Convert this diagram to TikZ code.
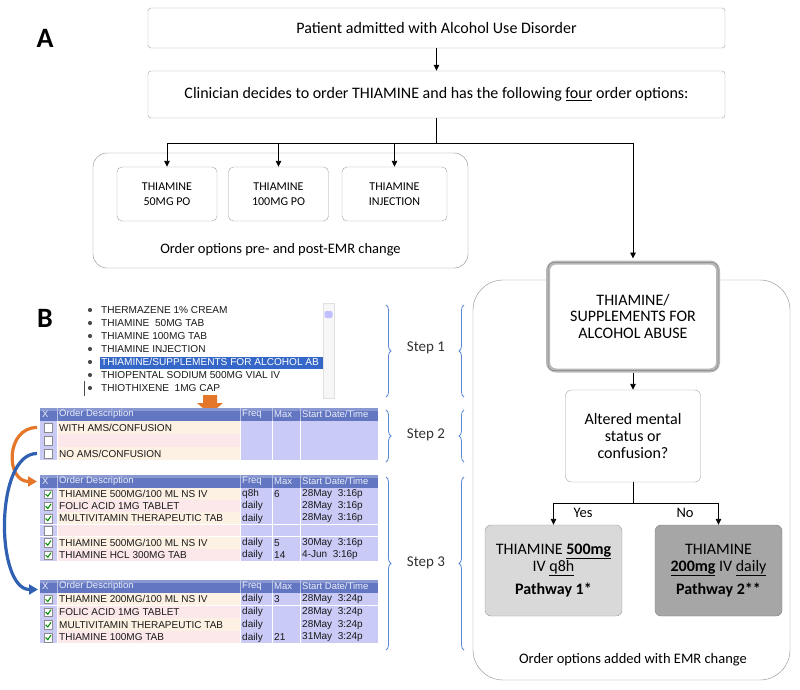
\documentclass[tikz,border=0pt]{standalone}
\usepackage{fontspec}
\setmainfont{Carlito}
\newfontfamily\emrfont{Liberation Sans}
\usetikzlibrary{arrows.meta,decorations.pathreplacing,positioning}

\definecolor{boxline}{HTML}{A3A3A3}
\definecolor{stepblue}{HTML}{5B87D6}
\definecolor{hdrblue}{HTML}{6276C2}
\definecolor{peach}{HTML}{FDF1E3}
\definecolor{pinkrow}{HTML}{FCE7EA}
\definecolor{lav}{HTML}{C9CAF6}
\definecolor{selblue}{HTML}{3467C8}
\definecolor{orangearr}{HTML}{E5772A}
\definecolor{bluearr}{HTML}{2F60B2}
\definecolor{pathlight}{HTML}{D9D9D9}
\definecolor{pathdark}{HTML}{A6A6A6}

\tikzset{
  flowbox/.style={draw=boxline, rounded corners=3pt, fill=white, align=center,
    inner sep=0pt, font=\fontsize{16}{19}\selectfont},
  optbox/.style={draw=boxline, rounded corners=5pt, fill=white, align=center,
    inner sep=0pt, minimum height=54pt, font=\fontsize{12}{15}\selectfont},
  groupbox/.style={draw=boxline!85!black, rounded corners=#1, inner sep=0pt},
  supplbox/.style={draw=black!28, line width=4pt, rounded corners=8pt, fill=white,
    align=center, inner sep=0pt, font=\fontsize{16}{16.5}\selectfont},
  pathbox/.style={draw=black!40, rounded corners=6pt, align=center, inner sep=0pt,
    minimum height=91pt, font=\fontsize{16}{17}\selectfont},
  flowline/.style={black, line width=0.9pt},
  arr/.style={-{Triangle[length=6pt,width=5.5pt]}},
  stepbrace/.style={decorate, decoration={brace, amplitude=5pt, aspect=0.5},
    draw=stepblue, line width=0.8pt},
  steplabel/.style={font=\fontsize{15}{18}\selectfont, text=black!80},
  panel/.style={font=\bfseries\fontsize{28}{30}\selectfont},
  caption/.style={font=\fontsize{14.5}{17}\selectfont},
  emrtext/.style={anchor=west, inner sep=0pt, text=black!90,
    font=\emrfont\fontsize{10}{11}\selectfont},
  emrhead/.style={anchor=west, inner sep=0pt, text=white!88!hdrblue,
    font=\emrfont\fontsize{9.5}{10}\selectfont}
}

% name, top, row height, rows
\newcommand\emrtable[4]{%
  \fill[hdrblue] (40,#2) rectangle (378,#2+13);
  \fill[white, opacity=.25] (40,#2) rectangle (378,#2+3);
  \foreach \cx in {57,240,272,300} \draw[white!55!hdrblue] (\cx,#2) -- (\cx,#2+13);
  \coordinate (#1head) at (40,#2+6.5);
  \node[emrhead] (#1hx) at (42,#2+6.5) {X};
  \node[emrhead] (#1hdesc) at (59,#2+6.5) {Order Description};
  \node[emrhead] (#1hfreq) at (242,#2+6.5) {Freq};
  \node[emrhead] (#1hmax) at (274,#2+6.5) {Max};
  \node[emrhead] (#1hstart) at (302,#2+6.5) {Start Date/Time};
  \foreach \desc/\freq/\mx/\start/\chk [count=\r] in {#4} {
    \pgfmathsetmacro\ytop{#2+13+(\r-1)*#3}
    \pgfmathsetmacro\ymid{\ytop+#3/2}
    \pgfmathsetmacro\ybot{\ytop+#3}
    \ifodd\r\relax \def\rowcol{peach}\else \def\rowcol{pinkrow}\fi
    \fill[lav] (40,\ytop) rectangle (378,\ybot);
    \fill[\rowcol] (57,\ytop) rectangle (240,\ybot);
    \draw[white, line width=.7pt] (40,\ybot) -- (378,\ybot);
    \foreach \cx in {57,240,272,300} \draw[white, line width=.7pt] (\cx,\ytop) -- (\cx,\ybot);
    \draw[black!45, fill=white] (44,\ymid-4.3) rectangle (52.6,\ymid+4.3);
    \ifnum\chk=1
      \draw[green!55!black, line width=1pt] (45.6,\ymid) -- (47.8,\ymid+2.2) -- (51,\ymid-2.4);
    \fi
    \coordinate (#1row\r) at (40,\ymid);
    \node[emrtext] (#1desc\r) at (59,\ymid) {\desc};
    \node[emrtext] (#1freq\r) at (242,\ymid) {\freq};
    \node[emrtext] (#1max\r) at (274,\ymid) {\mx};
    \node[emrtext] (#1start\r) at (302,\ymid) {\start};
  }
}

\begin{document}
\begin{tikzpicture}[x=1pt, y=-1pt]
  \useasboundingbox (0,0) rectangle (800,690);

  \node[panel] (labA) at (45,38) {A};
  \node[panel] (labB) at (45,318) {B};

  \node[flowbox, minimum width=577pt, minimum height=40pt] (admit) at (436.5,28)
    {Patient admitted with Alcohol Use Disorder};
  \node[flowbox, minimum width=577pt, minimum height=47pt] (clin) at (436.5,94.5)
    {Clinician decides to order THIAMINE and has the following \underline{four} order options:};

  \node[groupbox=14pt, minimum width=375pt, minimum height=115pt] (pregroup) at (280.5,210.5) {};
  \node[caption] (pretext) at (280.5,250) {Order options pre- and post-EMR change};
  \node[optbox, minimum width=100pt] (opt50) at (167,194) {THIAMINE\\50MG PO};
  \node[optbox, minimum width=100pt] (opt100) at (278.5,194) {THIAMINE\\100MG PO};
  \node[optbox, minimum width=105pt] (optinj) at (394.5,194) {THIAMINE\\INJECTION};

  \node[groupbox=30pt, minimum width=317pt, minimum height=400pt] (addgroup) at (631.5,480) {};
  \node[caption] (addtext) at (633,660) {Order options added with EMR change};
  \node[supplbox, minimum width=170pt, minimum height=108pt] (suppl) at (633,316.5)
    {THIAMINE/\\SUPPLEMENTS FOR\\ALCOHOL ABUSE};
  \draw[black!50, line width=.5pt, rounded corners=6pt]
    ([shift={(2,2)}]suppl.north west) rectangle ([shift={(-2,-2)}]suppl.south east);
  \node[flowbox, rounded corners=6pt, minimum width=135pt, minimum height=92pt,
    font=\fontsize{16}{17}\selectfont] (alter) at (633,436) {Altered mental\\status or\\confusion?};
  \node[pathbox, fill=pathlight, minimum width=137pt] (path1) at (553.5,570.5)
    {THIAMINE \textbf{\underline{500mg}}\\IV \underline{q8h}\\[6pt]\textbf{Pathway 1*}};
  \node[pathbox, fill=pathdark, draw=black!50, minimum width=127pt] (path2) at (718.5,570.5)
    {THIAMINE\\\textbf{\underline{200mg}} IV \underline{daily}\\[6pt]\textbf{Pathway 2**}};
  \node[caption] (yes) at (583,513) {Yes};
  \node[caption] (no) at (685,513) {No};

  \coordinate (split) at (436.5,143);
  \coordinate (fork) at (633,503);
  \begin{scope}[flowline]
    \draw[arr] (admit) -- (clin);
    \draw (clin) -- (split);
    \draw[arr] (split) -| (opt50);
    \draw[arr] (split) -| (opt100);
    \draw[arr] (split) -| (optinj);
    \draw[arr, shorten >=2pt] (split) -| (suppl);
    \draw[arr] (suppl) -- (alter);
    \draw (alter) -- (fork);
    \draw[arr] (fork) -| (path1);
    \draw[arr] (fork) -| (path2);
  \end{scope}

  \fill[black!3] (323,303) rectangle (334,398);
  \draw[black!12] (323,303) rectangle (334,398);
  \fill[blue!25!white, rounded corners=2pt] (324.5,311) rectangle (332.5,318);
  \fill[selblue] (100,357) rectangle (323,369);
  \foreach \item [count=\i] in {THERMAZENE 1\% CREAM, THIAMINE~~50MG TAB, THIAMINE 100MG TAB,
      THIAMINE INJECTION, THIAMINE/SUPPLEMENTS FOR ALCOHOL AB, THIOPENTAL SODIUM 500MG VIAL IV,
      THIOTHIXENE~~1MG CAP} {
    \fill[black!70] (90,297+\i*13) circle (2.1);
    \ifnum\i=5
      \node[emrtext, text=white, font=\emrfont\fontsize{10.1}{12}\selectfont] (item\i) at (101,297+\i*13) {\item};
    \else
      \node[emrtext, font=\emrfont\fontsize{10.1}{12}\selectfont] (item\i) at (101,297+\i*13) {\item};
    \fi
  }
  \draw[black!70, line width=.8pt] (84,381) -- (84,396);
  \fill[orangearr] (203,395) -- (217,395) -- (217,403) -- (223,403) -- (210,414)
    -- (197,403) -- (203,403) -- cycle;

  \emrtable{t1}{408}{13}{%
    {WITH AMS/CONFUSION}/{}/{}/{}/0,%
    {}/{}/{}/{}/0,%
    {NO AMS/CONFUSION}/{}/{}/{}/0}
  \emrtable{t2}{475}{12.2}{%
    {THIAMINE 500MG/100 ML NS IV}/q8h/6/28May~~3:16p/1,%
    {FOLIC ACID 1MG TABLET}/daily/{}/28May~~3:16p/1,%
    {MULTIVITAMIN THERAPEUTIC TAB}/daily/{}/28May~~3:16p/1,%
    {}/{}/{}/{}/0,%
    {THIAMINE 500MG/100 ML NS IV}/daily/5/30May~~3:16p/1,%
    {THIAMINE HCL 300MG TAB}/daily/14/4-Jun~~3:16p/1}
  \emrtable{t3}{580}{12.7}{%
    {THIAMINE 200MG/100 ML NS IV}/daily/3/28May~~3:24p/1,%
    {FOLIC ACID 1MG TABLET}/daily/{}/28May~~3:24p/1,%
    {MULTIVITAMIN THERAPEUTIC TAB}/daily/{}/28May~~3:24p/1,%
    {THIAMINE 100MG TAB}/daily/21/31May~~3:24p/1}

  \draw[orangearr, line width=3.2pt, -{Triangle[length=9pt,width=10pt]}]
    ([xshift=-3pt]t1row1) to[out=180, in=180, looseness=1.5] ([xshift=-3pt]t2head);
  \draw[bluearr, line width=3.2pt, -{Triangle[length=9pt,width=10pt]}]
    ([xshift=-3pt]t1row3) to[out=180, in=180, looseness=.8] ([xshift=-2pt, yshift=-3pt]t3head);

  \node[steplabel] (step1) at (426,348) {Step 1};
  \node[steplabel] (step2) at (426,435) {Step 2};
  \node[steplabel] (step3) at (426,563) {Step 3};
  \draw[stepbrace] (386,305) -- (386,397);
  \draw[stepbrace] (386,410) -- (386,462);
  \draw[stepbrace] (386,477) -- (386,650);
  \draw[stepbrace] (464,397) -- (464,305);
  \draw[stepbrace] (464,462) -- (464,410);
  \draw[stepbrace] (464,650) -- (464,477);
\end{tikzpicture}
\end{document}
